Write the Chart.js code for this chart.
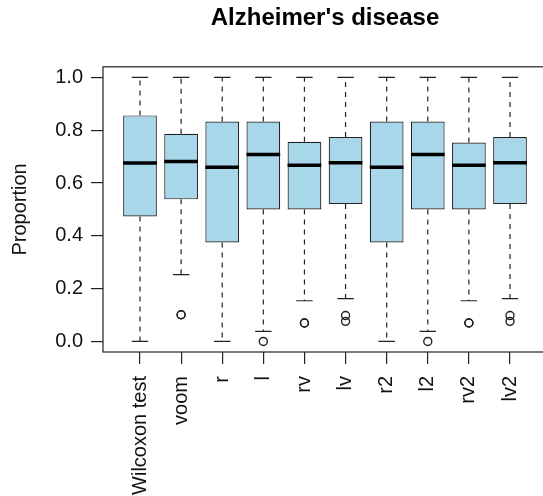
<!DOCTYPE html>
<html lang="en">
  <head>
    <meta charset="UTF-8" />
    <title>Alzheimer's disease</title>
    <script src="https://cdn.jsdelivr.net/npm/chart.js@4.4.0/dist/chart.umd.min.js"></script>
    <style>
      html, body { margin: 0; padding: 0; overflow: hidden; background: #fff; }
    </style>
  </head>
  <body>
    <canvas id="myChart" width="560" height="496"></canvas>

    <script>
      // box statistics
      const names = ['Wilcoxon test', 'voom', 'r', 'l', 'rv', 'lv', 'r2', 'l2', 'rv2', 'lv2'];
      const lowerWhisker = [0, 0.253, 0, 0.038, 0.154, 0.162, 0, 0.038, 0.154, 0.162];
      const q1 = [0.473, 0.538, 0.375, 0.5, 0.5, 0.52, 0.375, 0.5, 0.5, 0.52];
      const median = [0.676, 0.681, 0.66, 0.708, 0.667, 0.677, 0.66, 0.708, 0.667, 0.677];
      const q3 = [0.856, 0.786, 0.833, 0.833, 0.756, 0.774, 0.833, 0.833, 0.753, 0.774];
      const upperWhisker = [1, 1, 1, 1, 1, 1, 1, 1, 1, 1];
      const outliers = [[], [0.101, 0.101], [], [0], [0.07, 0.07], [0.098, 0.076], [], [0], [0.07, 0.07], [0.098, 0.076]];
      const yTicks = [0, 0.2, 0.4, 0.6, 0.8, 1.0];

      const FONT = "'Liberation Sans', Arial, sans-serif";
      const INK = '#222';

      const boxData = names.map((n, i) => ({ x: i + 1, y: [q1[i], q3[i]] }));
      const outlierData = [];
      outliers.forEach((list, i) => list.forEach(v => outlierData.push({ x: i + 1, y: v })));

      // whiskers, medians and frame, placed through the chart scales
      const boxplotParts = {
        id: 'boxplotParts',
        afterDatasetsDraw(chart) {
          const ctx = chart.ctx;
          const xs = chart.scales.x;
          const ys = chart.scales.y;
          const bars = chart.getDatasetMeta(0).data;
          ctx.save();
          names.forEach((n, i) => {
            const cx = xs.getPixelForValue(i + 1);
            const half = bars[i].width / 2;
            const capL = xs.getPixelForValue(i + 0.8);
            const capR = xs.getPixelForValue(i + 1.2);
            ctx.strokeStyle = INK;
            ctx.lineWidth = 1.2;
            ctx.setLineDash([5, 5]);
            ctx.beginPath();
            ctx.moveTo(cx, ys.getPixelForValue(q3[i]));
            ctx.lineTo(cx, ys.getPixelForValue(upperWhisker[i]));
            ctx.moveTo(cx, ys.getPixelForValue(q1[i]));
            ctx.lineTo(cx, ys.getPixelForValue(lowerWhisker[i]));
            ctx.stroke();
            ctx.setLineDash([]);
            ctx.beginPath();
            ctx.moveTo(capL, ys.getPixelForValue(upperWhisker[i]));
            ctx.lineTo(capR, ys.getPixelForValue(upperWhisker[i]));
            ctx.moveTo(capL, ys.getPixelForValue(lowerWhisker[i]));
            ctx.lineTo(capR, ys.getPixelForValue(lowerWhisker[i]));
            ctx.stroke();
            ctx.lineWidth = 3.5;
            ctx.strokeStyle = '#000';
            ctx.beginPath();
            ctx.moveTo(cx - half, ys.getPixelForValue(median[i]));
            ctx.lineTo(cx + half, ys.getPixelForValue(median[i]));
            ctx.stroke();
          });
          const a = chart.chartArea;
          ctx.lineWidth = 1.2;
          ctx.strokeStyle = INK;
          ctx.strokeRect(a.left, a.top, a.right - a.left, a.bottom - a.top);
          ctx.restore();
        }
      };

      const ctx = document.getElementById('myChart').getContext('2d');
      new Chart(ctx, {
        type: 'bar',
        data: {
          datasets: [
            {
              data: boxData,
              backgroundColor: '#a8d7e9',
              borderColor: INK,
              borderWidth: 1.2,
              borderSkipped: false,
              barPercentage: 0.82,
              categoryPercentage: 1
            },
            {
              type: 'scatter',
              data: outlierData,
              pointRadius: 4,
              pointBorderWidth: 1.4,
              pointBackgroundColor: 'rgba(0,0,0,0)',
              pointBorderColor: INK
            }
          ]
        },
        options: {
          responsive: false,
          animation: false,
          layout: { padding: { left: 0, right: 13, top: 0, bottom: 0 } },
          plugins: {
            legend: { display: false },
            tooltip: { enabled: false },
            title: {
              display: true,
              text: "Alzheimer's disease",
              fullSize: false,
              color: '#000',
              font: { family: FONT, size: 24, weight: 'bold', lineHeight: 1.2 },
              padding: { top: 4, bottom: 34 }
            }
          },
          scales: {
            x: {
              type: 'linear',
              min: 0.1,
              max: 10.9,
              offset: false,
              afterBuildTicks: s => { s.ticks = names.map((n, i) => ({ value: i + 1 })); },
              afterFit: s => { s.height = 144; },
              grid: { offset: false, drawOnChartArea: false, drawTicks: true, tickLength: 12, color: INK, lineWidth: 1.2 },
              border: { display: false },
              ticks: {
                autoSkip: false,
                minRotation: 90,
                maxRotation: 90,
                padding: 12,
                color: '#111',
                font: { family: FONT, size: 20 },
                callback: v => names[Math.round(v) - 1]
              }
            },
            y: {
              min: -0.04,
              max: 1.04,
              afterBuildTicks: s => { s.ticks = yTicks.map(v => ({ value: v })); },
              afterFit: s => { s.width = 103; },
              grid: { drawOnChartArea: false, drawTicks: true, tickLength: 12, color: INK, lineWidth: 1.2 },
              border: { display: false },
              ticks: {
                padding: 8,
                color: '#111',
                font: { family: FONT, size: 20 },
                callback: v => v.toFixed(1)
              },
              title: {
                display: true,
                text: 'Proportion',
                color: '#111',
                font: { family: FONT, size: 20, lineHeight: 1.6 }
              }
            }
          }
        },
        plugins: [boxplotParts]
      });
    </script>
  </body>
</html>
